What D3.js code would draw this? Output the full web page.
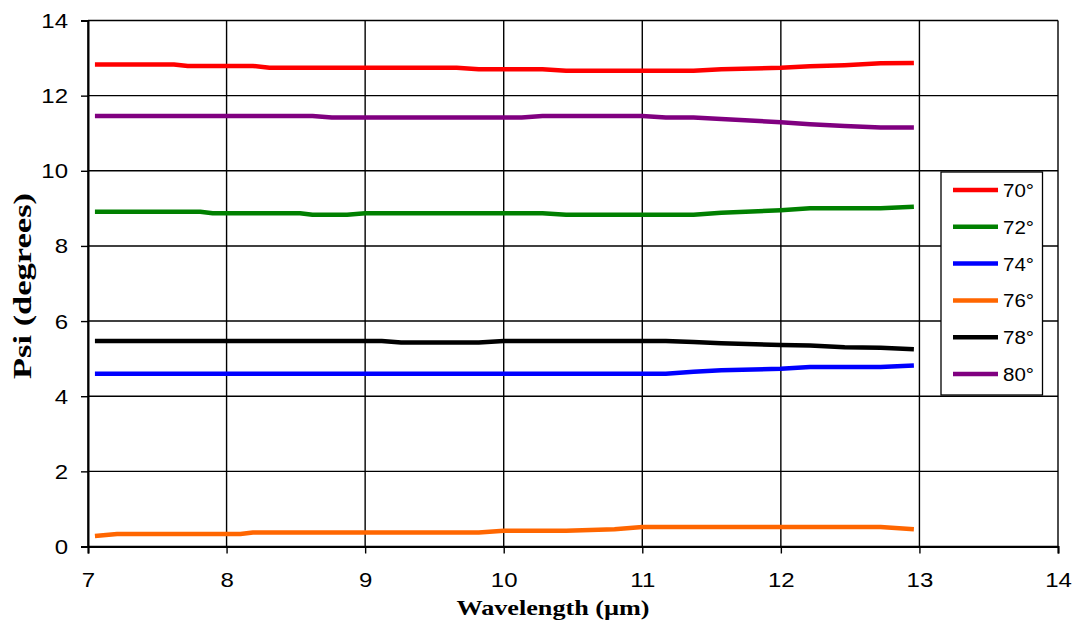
<!DOCTYPE html>
<html><head><meta charset="utf-8">
<script src="https://cdn.jsdelivr.net/npm/d3@7"></script>
<style>body{margin:0;background:#fff}svg{display:block}</style>
</head><body>
<script>
const wavelength = [7.05,7.21,7.38,7.54,7.62,7.72,7.81,7.90,8.10,8.19,8.31,8.53,8.62,8.76,8.87,9.00,9.12,9.26,9.54,9.66,9.82,10.00,10.13,10.28,10.45,10.80,11.00,11.17,11.37,11.57,12.00,12.21,12.46,12.72,12.96];
const psi70 = [12.83,12.83,12.83,12.83,12.83,12.79,12.79,12.79,12.79,12.79,12.745,12.745,12.745,12.745,12.745,12.745,12.745,12.745,12.745,12.745,12.70,12.70,12.70,12.70,12.66,12.66,12.66,12.66,12.66,12.70,12.74,12.78,12.81,12.86,12.87];
const psi72 = [8.91,8.91,8.91,8.91,8.91,8.91,8.91,8.87,8.87,8.87,8.87,8.87,8.83,8.83,8.83,8.87,8.87,8.87,8.87,8.87,8.87,8.87,8.87,8.87,8.83,8.83,8.83,8.83,8.83,8.88,8.95,9.00,9.00,9.00,9.04];
const psi74 = [4.60,4.60,4.60,4.60,4.60,4.60,4.60,4.60,4.60,4.60,4.60,4.60,4.60,4.60,4.60,4.60,4.60,4.60,4.60,4.60,4.60,4.60,4.60,4.60,4.60,4.60,4.60,4.60,4.65,4.69,4.73,4.78,4.78,4.78,4.82];
const psi76 = [0.28,0.33,0.33,0.33,0.33,0.33,0.33,0.33,0.33,0.37,0.37,0.37,0.37,0.37,0.37,0.37,0.37,0.37,0.37,0.37,0.37,0.42,0.42,0.42,0.42,0.46,0.52,0.52,0.52,0.52,0.52,0.52,0.52,0.52,0.46];
const psi78 = [5.47,5.47,5.47,5.47,5.47,5.47,5.47,5.47,5.47,5.47,5.47,5.47,5.47,5.47,5.47,5.47,5.47,5.43,5.43,5.43,5.43,5.47,5.47,5.47,5.47,5.47,5.47,5.47,5.44,5.41,5.36,5.35,5.30,5.29,5.25];
const psi80 = [11.46,11.46,11.46,11.46,11.46,11.46,11.46,11.46,11.46,11.46,11.46,11.46,11.46,11.42,11.42,11.42,11.42,11.42,11.42,11.42,11.42,11.42,11.42,11.46,11.46,11.46,11.46,11.42,11.42,11.38,11.29,11.24,11.19,11.15,11.15];
const seriesNames = ["70°","72°","74°","76°","78°","80°"];
const seriesColors = ["#FF0000","#008000","#0000FF","#FF6600","#000000","#800080"];
const seriesValues = [psi70,psi72,psi74,psi76,psi78,psi80];
const xTicks = [7,8,9,10,11,12,13,14];
const yTicks = [0,2,4,6,8,10,12,14];

const W=1077,H=625;
const m={left:88,right:1058,top:20.5,bottom:546.5};
const SANS="Liberation Sans, Arial, sans-serif";
const SERIF="Liberation Serif, Times New Roman, serif";
const svg=d3.select("body").append("svg").attr("width",W).attr("height",H);
const x=d3.scaleLinear().domain([7,14]).range([m.left,m.right]);
const y=d3.scaleLinear().domain([0,14]).range([m.bottom,m.top]);

// gridlines
const g=svg.append("g");
g.selectAll("line.h").data(yTicks).join("line")
 .attr("x1",m.left).attr("x2",m.right).attr("y1",d=>y(d)).attr("y2",d=>y(d))
 .attr("stroke","#000").attr("stroke-width",1.4);
g.selectAll("line.v").data(xTicks).join("line")
 .attr("y1",m.top).attr("y2",m.bottom).attr("x1",d=>x(d)).attr("x2",d=>x(d))
 .attr("stroke","#000").attr("stroke-width",1.4);

// axes
const fmt=d3.format("d");
const yAxis=svg.append("g").attr("transform",`translate(${m.left},0)`)
 .call(d3.axisLeft(y).tickValues(yTicks).tickFormat(fmt).tickSize(7));
const xAxis=svg.append("g").attr("transform",`translate(0,${m.bottom})`)
 .call(d3.axisBottom(x).tickValues(xTicks).tickFormat(fmt).tickSize(7));
[yAxis,xAxis].forEach(a=>{
  a.select(".domain").attr("stroke","#000").attr("stroke-width",2);
  a.selectAll(".tick line").attr("stroke","#000").attr("stroke-width",1.4);
  a.selectAll("text").attr("font-family",SANS).attr("font-size",20).attr("fill","#000");
});
yAxis.selectAll(".tick text").attr("x",0).attr("dy","0.35em").attr("transform","translate(-20,0) scale(1.2,1)");
xAxis.selectAll(".tick text").attr("y",0).attr("dy",null).attr("transform","translate(0,40.5) scale(1.2,1)");

// lines
const line=d3.line().x(d=>x(d[0])).y(d=>y(d[1]));
seriesValues.forEach((vals,i)=>{
  svg.append("path").datum(wavelength.map((w,j)=>[w,vals[j]]))
   .attr("d",line).attr("fill","none").attr("stroke",seriesColors[i])
   .attr("stroke-width",4.5).attr("stroke-linejoin","round");
});

// legend
const lg=svg.append("g");
lg.append("rect").attr("x",941).attr("y",172).attr("width",101.5).attr("height",223)
 .attr("fill","#fff").attr("stroke","#000").attr("stroke-width",1.3);
seriesNames.forEach((n,i)=>{
  const yy=190+i*36.8;
  lg.append("line").attr("x1",953).attr("x2",998).attr("y1",yy).attr("y2",yy)
   .attr("stroke",seriesColors[i]).attr("stroke-width",4.5);
  lg.append("text").attr("transform",`translate(1003,${yy+7}) scale(1.08,1)`).text(n)
   .attr("font-family",SANS).attr("font-size",19).attr("fill","#000");
});

// axis titles
svg.append("text").attr("transform","translate(553,615) scale(1.19,1)")
 .attr("text-anchor","middle")
 .attr("font-family",SERIF).attr("font-weight","bold").attr("font-size",22)
 .text("Wavelength (µm)");
svg.append("text").attr("transform",`translate(31,286) rotate(-90) scale(1.38,1)`)
 .attr("text-anchor","middle")
 .attr("font-family",SERIF).attr("font-weight","bold").attr("font-size",25)
 .text("Psi (degrees)");
</script>
</body></html>
